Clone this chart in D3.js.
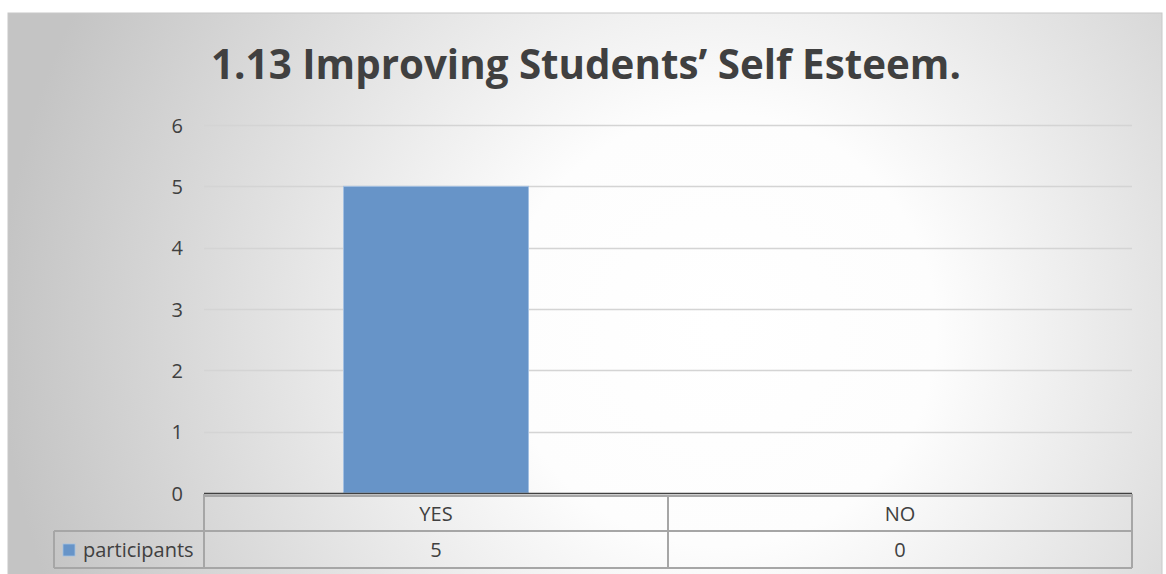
<!DOCTYPE html>
<html><head><meta charset="utf-8">
<script src="https://cdn.jsdelivr.net/npm/d3@7"></script>
<style>body{margin:0;background:#fff;}svg{display:block;}</style>
</head><body>
<script>
const title = "1.13 Improving Students’ Self Esteem.";
const categories = ["YES", "NO"];
const seriesName = "participants";
const values = [5, 0];
const yTicks = [0, 1, 2, 3, 4, 5, 6];

const W = 1166, H = 574;
const svg = d3.select("body").append("svg").attr("width", W).attr("height", H);
const defs = svg.append("defs");
const grad = defs.append("radialGradient").attr("id", "bg")
  .attr("gradientUnits", "userSpaceOnUse")
  .attr("cx", 720).attr("cy", 330).attr("r", 720);
grad.append("stop").attr("offset", "0").attr("stop-color", "#ffffff");
grad.append("stop").attr("offset", "0.3").attr("stop-color", "#fdfdfd");
grad.append("stop").attr("offset", "1").attr("stop-color", "#c4c4c4");

svg.append("rect").attr("x", 8).attr("y", 13).attr("width", 1154).attr("height", 580)
  .attr("fill", "url(#bg)").attr("stroke", "#c8c8c8").attr("stroke-width", 1);

const font = "'Open Sans', 'Noto Sans', sans-serif";
const textColor = "#404040";
const fs = 20;

// title (Open Sans is wider than the original face: condense horizontally to the original width)
const titleG = svg.append("g");
const t = titleG.append("text").attr("x", 0).attr("y", 0).attr("text-anchor", "middle")
  .attr("font-family", font).attr("font-weight", "bold").attr("font-size", 41)
  .attr("fill", textColor).text(title);
const tw = t.node().getComputedTextLength();
titleG.attr("transform", `translate(586,79) scale(${750 / tw},1)`);

const plotL = 204, plotR = 1132;
const x = d3.scaleBand().domain(categories).range([plotL, plotR]).paddingInner(0).paddingOuter(0);
const y = d3.scaleLinear().domain([0, 6]).range([493, 125]);

// gridlines
svg.append("g").selectAll("line").data(yTicks.filter(d => d > 0)).join("line")
  .attr("x1", plotL).attr("x2", plotR)
  .attr("y1", d => Math.round(y(d)) + 0.5).attr("y2", d => Math.round(y(d)) + 0.5)
  .attr("stroke", "#d4d4d4").attr("stroke-width", 1.3);

// y axis labels
const yAxis = d3.axisLeft(y).tickValues(yTicks).tickFormat(d3.format("d")).tickSize(0).tickPadding(0);
const ya = svg.append("g").attr("transform", "translate(183,0)").call(yAxis);
ya.select(".domain").remove();
ya.selectAll("text").attr("font-family", font).attr("font-size", fs).attr("fill", textColor)
  .attr("dy", "0.35em");

// bars
const barW = 185;
svg.append("g").selectAll("rect").data(values).join("rect")
  .attr("x", (d, i) => x(categories[i]) + x.bandwidth() / 2 - barW / 2)
  .attr("y", d => y(d))
  .attr("width", barW)
  .attr("height", d => y(0) - y(d))
  .attr("fill", "#6794c8").attr("stroke", "#a3c0e2").attr("stroke-width", 1)
  .attr("display", d => d > 0 ? null : "none");

// axis line
svg.append("line").attr("x1", plotL).attr("x2", plotR).attr("y1", 493.5).attr("y2", 493.5)
  .attr("stroke", "#404040").attr("stroke-width", 1.5);

// data table
const row1T = 496, row2T = 531, row2B = 568, legL = 54;
const tbl = svg.append("g").attr("fill", "none").attr("stroke", "#a6a6a6").attr("stroke-width", 2);
tbl.append("line").attr("x1", plotL).attr("x2", plotR).attr("y1", row1T).attr("y2", row1T);
tbl.append("line").attr("x1", legL).attr("x2", plotR).attr("y1", row2T).attr("y2", row2T);
tbl.append("line").attr("x1", legL).attr("x2", plotR).attr("y1", row2B).attr("y2", row2B);
tbl.append("line").attr("x1", legL).attr("x2", legL).attr("y1", row2T).attr("y2", row2B);
[plotL, plotR].forEach(xx => tbl.append("line").attr("x1", xx).attr("x2", xx).attr("y1", row1T - 2).attr("y2", row2B));
categories.slice(1).forEach(c => tbl.append("line").attr("x1", x(c)).attr("x2", x(c)).attr("y1", row1T).attr("y2", row2B));

const cells = svg.append("g").attr("font-family", font).attr("font-size", fs).attr("fill", textColor)
  .attr("text-anchor", "middle");
cells.selectAll("text.cat").data(categories).join("text").attr("class", "cat")
  .attr("x", d => x(d) + x.bandwidth() / 2).attr("y", (row1T + row2T) / 2).attr("dy", "0.35em").text(d => d);
cells.selectAll("text.val").data(values).join("text").attr("class", "val")
  .attr("x", (d, i) => x(categories[i]) + x.bandwidth() / 2).attr("y", (row2T + row2B) / 2).attr("dy", "0.35em").text(d => d);

// legend key
svg.append("rect").attr("x", 63).attr("y", 544).attr("width", 12).attr("height", 12)
  .attr("fill", "#6794c8").attr("stroke", "#a3c0e2").attr("stroke-width", 0.8);
svg.append("text").attr("x", 83).attr("y", (row2T + row2B) / 2).attr("dy", "0.35em")
  .attr("font-family", font).attr("font-size", fs).attr("fill", textColor)
  .text(seriesName);
</script>
</body></html>
